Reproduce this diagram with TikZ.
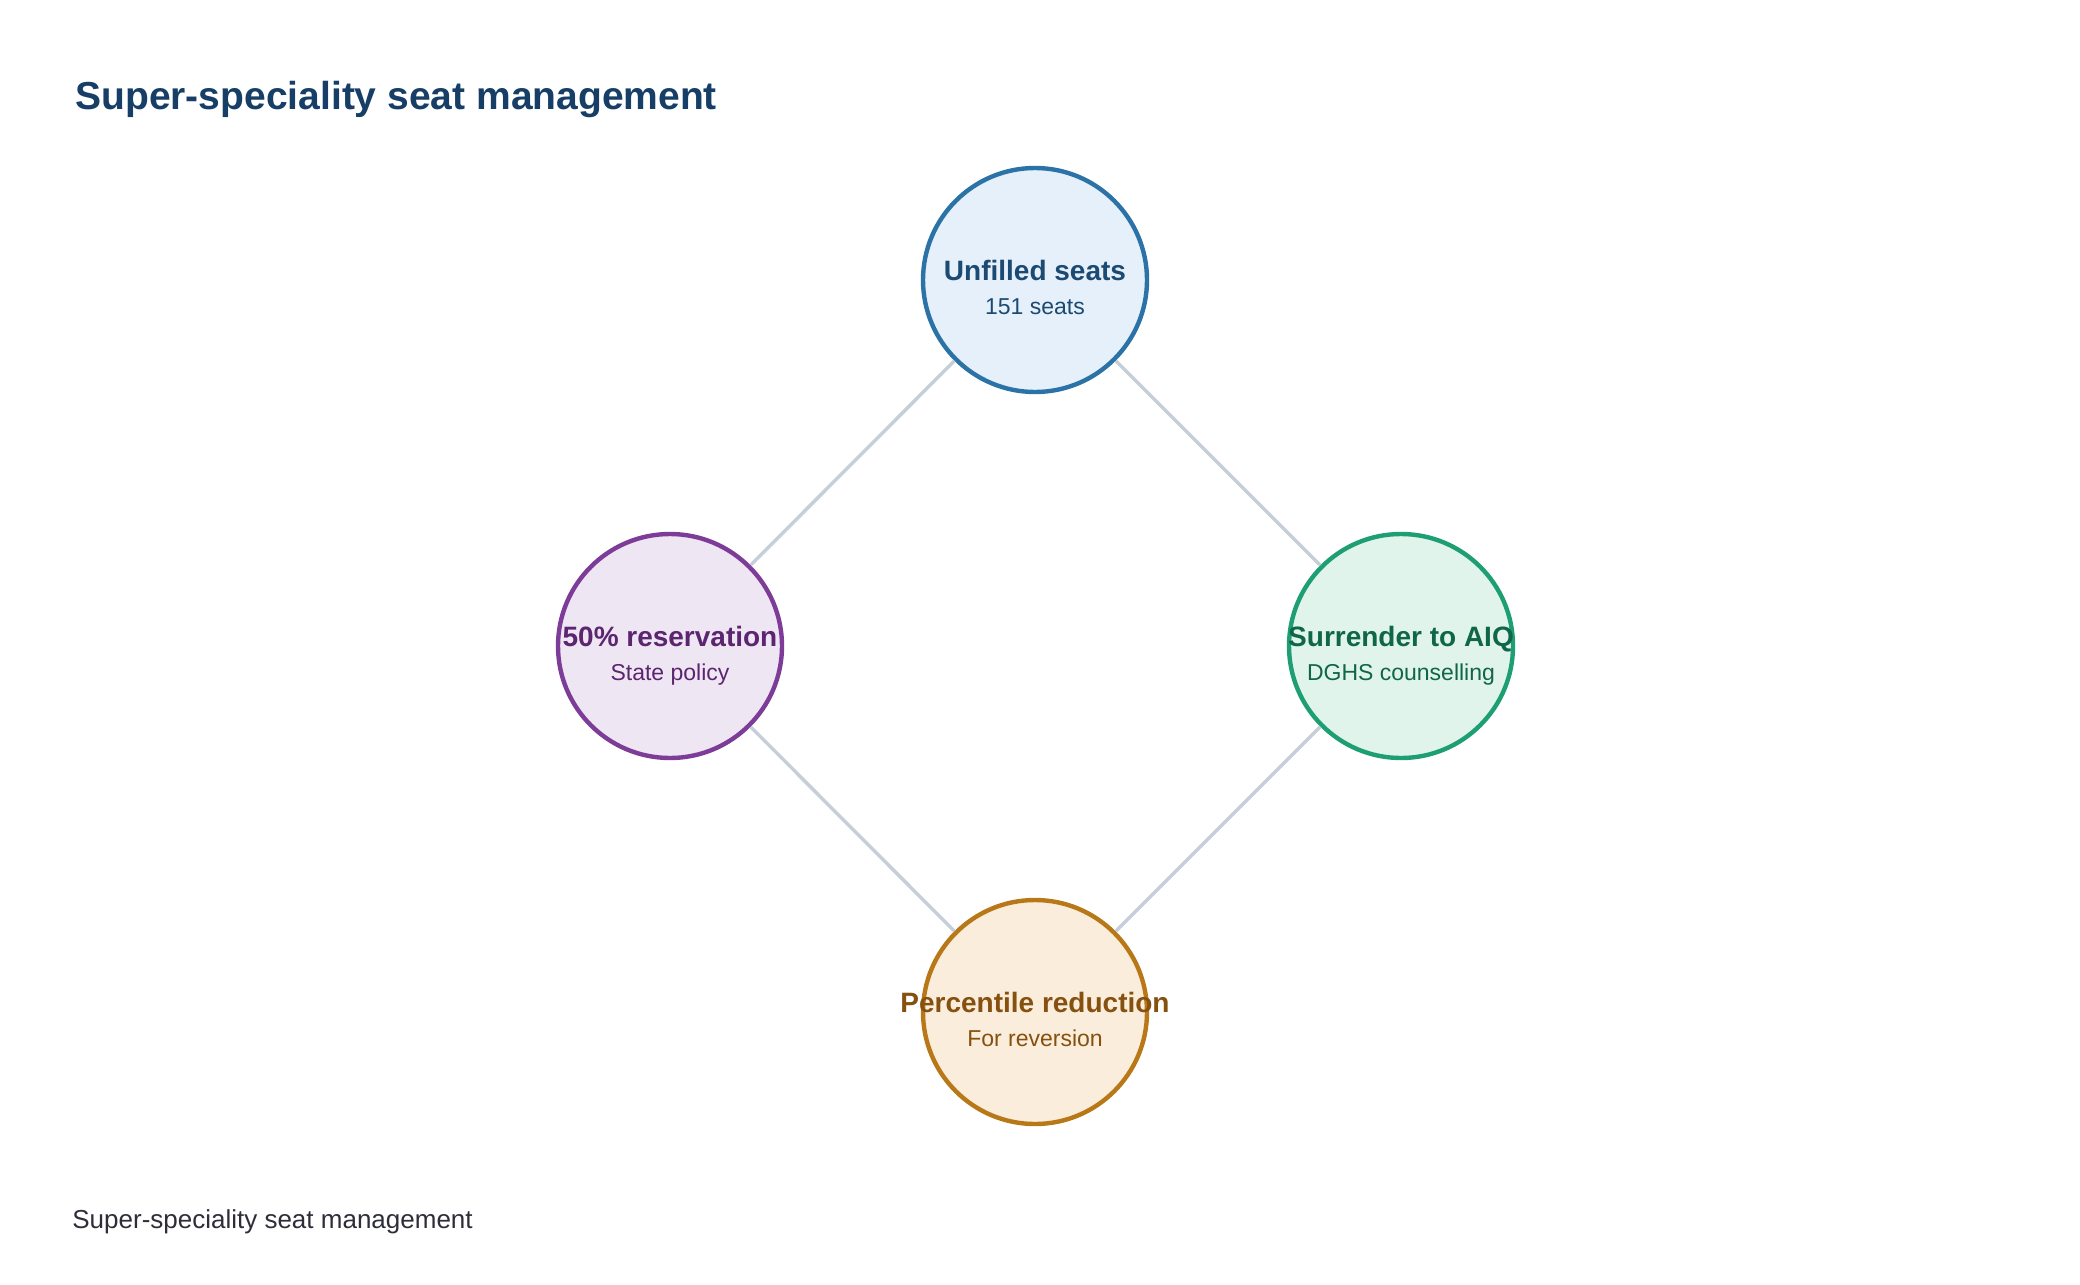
\documentclass[tikz,border=0pt]{standalone}
\usepackage{fontspec}
\setmainfont{Liberation Sans}
\definecolor{edgegray}{HTML}{C6CEDA}
\definecolor{titleblue}{HTML}{163E66}
\definecolor{footgray}{HTML}{2E2E3A}
\definecolor{bS}{HTML}{2B72A6}\definecolor{bF}{HTML}{E6F0FA}\definecolor{bT}{HTML}{1B4A72}
\definecolor{pS}{HTML}{7D3C98}\definecolor{pF}{HTML}{EFE6F4}\definecolor{pT}{HTML}{5B2570}
\definecolor{gS}{HTML}{1E9E73}\definecolor{gF}{HTML}{E1F4EC}\definecolor{gT}{HTML}{0F6649}
\definecolor{oS}{HTML}{B87818}\definecolor{oF}{HTML}{FAEDDB}\definecolor{oT}{HTML}{86500F}
\tikzset{
  bubble/.style={circle, draw=#1S, fill=#1F, line width=2.2pt, minimum size=112pt, inner sep=0pt},
  headtxt/.style={anchor=base, inner sep=0pt, font=\fontsize{14}{16}\selectfont\bfseries, text=#1T},
  subtxt/.style={anchor=base, inner sep=0pt, font=\fontsize{11.5}{13}\selectfont, text=#1T},
  link/.style={draw=edgegray, line width=1.7pt},
}
\begin{document}
\begin{tikzpicture}[x=0.5pt, y=-0.5pt]
\useasboundingbox[fill=white] (0,0) rectangle (2080,1284);
\node[anchor=base west, inner sep=0pt, font=\fontsize{19.5}{22}\selectfont\bfseries, text=titleblue] (title) at (75,110) {Super-speciality seat management};
\node[anchor=base west, inner sep=0pt, font=\fontsize{13}{15}\selectfont, text=footgray] (foot) at (72,1228) {Super-speciality seat management};

\node[bubble=b] (top) at (1035,280) {};
\node[bubble=p] (left) at (670,646) {};
\node[bubble=g] (right) at (1401,646) {};
\node[bubble=o] (bot) at (1035,1012) {};

\draw[link] (top) -- (left);
\draw[link] (top) -- (right);
\draw[link] (left) -- (bot);
\draw[link] (right) -- (bot);

\node[headtxt=b] (topA) at (1035,280) {Unfilled seats};
\node[subtxt=b] (topB) at (1035,314) {151 seats};
\node[headtxt=p] (leftA) at (670,646) {50\% reservation};
\node[subtxt=p] (leftB) at (670,680) {State policy};
\node[headtxt=g] (rightA) at (1401,646) {Surrender to AIQ};
\node[subtxt=g] (rightB) at (1401,680) {DGHS counselling};
\node[headtxt=o] (botA) at (1035,1012) {Percentile reduction};
\node[subtxt=o] (botB) at (1035,1046) {For reversion};
\end{tikzpicture}
\end{document}
